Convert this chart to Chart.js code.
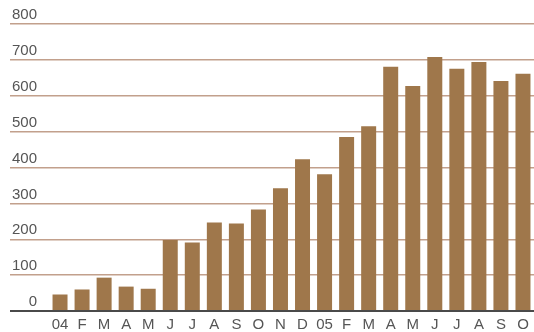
<!DOCTYPE html>
<html>
<head>
<meta charset="utf-8">
<script src="https://cdn.jsdelivr.net/npm/chart.js@4"></script>
<style>
  html, body { margin: 0; padding: 0; background: #fff; overflow: hidden; }
  #wrap { width: 534px; height: 332px; }
</style>
</head>
<body>
<div id="wrap"><canvas id="barChart"></canvas></div>
<script>
const months = ['04', 'F', 'M', 'A', 'M', 'J', 'J', 'A', 'S', 'O', 'N', 'D',
                '05', 'F', 'M', 'A', 'M', 'J', 'J', 'A', 'S', 'O'];
const values = [46, 60, 93, 68, 62, 198, 191, 247, 244, 283, 342, 423,
                381, 485, 515, 681, 627, 708, 675, 694, 641, 661];
const yTicks = [0, 100, 200, 300, 400, 500, 600, 700, 800];

const barColor = '#9f774b';
const gridColor = '#c2a08c';
const textColor = '#555555';

const ctx = document.getElementById('barChart').getContext('2d');
new Chart(ctx, {
    type: 'bar',
    data: {
        labels: months,
        datasets: [{
            data: values,
            backgroundColor: barColor,
            borderWidth: 0,
            categoryPercentage: 1,
            barPercentage: 0.68,
        }],
    },
    options: {
        responsive: true,
        maintainAspectRatio: false,
        animation: false,
        layout: { padding: { top: 24, right: 0, bottom: 0, left: 0 } },
        plugins: {
            legend: { display: false },
            tooltip: { enabled: false },
        },
        scales: {
            x: {
                afterFit: (scale) => { scale.height = 21; },
                grid: { display: false, drawTicks: false },
                border: { display: false },
                ticks: {
                    color: textColor,
                    font: { family: 'Liberation Sans', size: 15 },
                    padding: 5,
                    maxRotation: 0,
                    autoSkip: false,
                },
            },
            y: {
                min: 0,
                max: 800,
                afterBuildTicks: (scale) => {
                    scale.ticks = yTicks.map(v => ({ value: v }));
                },
                afterFit: (scale) => { scale.width = 49; },
                border: { display: false },
                grid: {
                    drawTicks: true,
                    tickLength: 39,
                    color: (c) => c.tick && c.tick.value === 0 ? '#4a4a4a' : gridColor,
                    lineWidth: (c) => c.tick && c.tick.value === 0 ? 2 : 1.5,
                },
                ticks: {
                    color: textColor,
                    font: { family: 'Liberation Sans', size: 15 },
                    crossAlign: 'near',
                    padding: -27,
                    labelOffset: -9,
                },
            },
        },
    },
});
</script>
</body>
</html>
